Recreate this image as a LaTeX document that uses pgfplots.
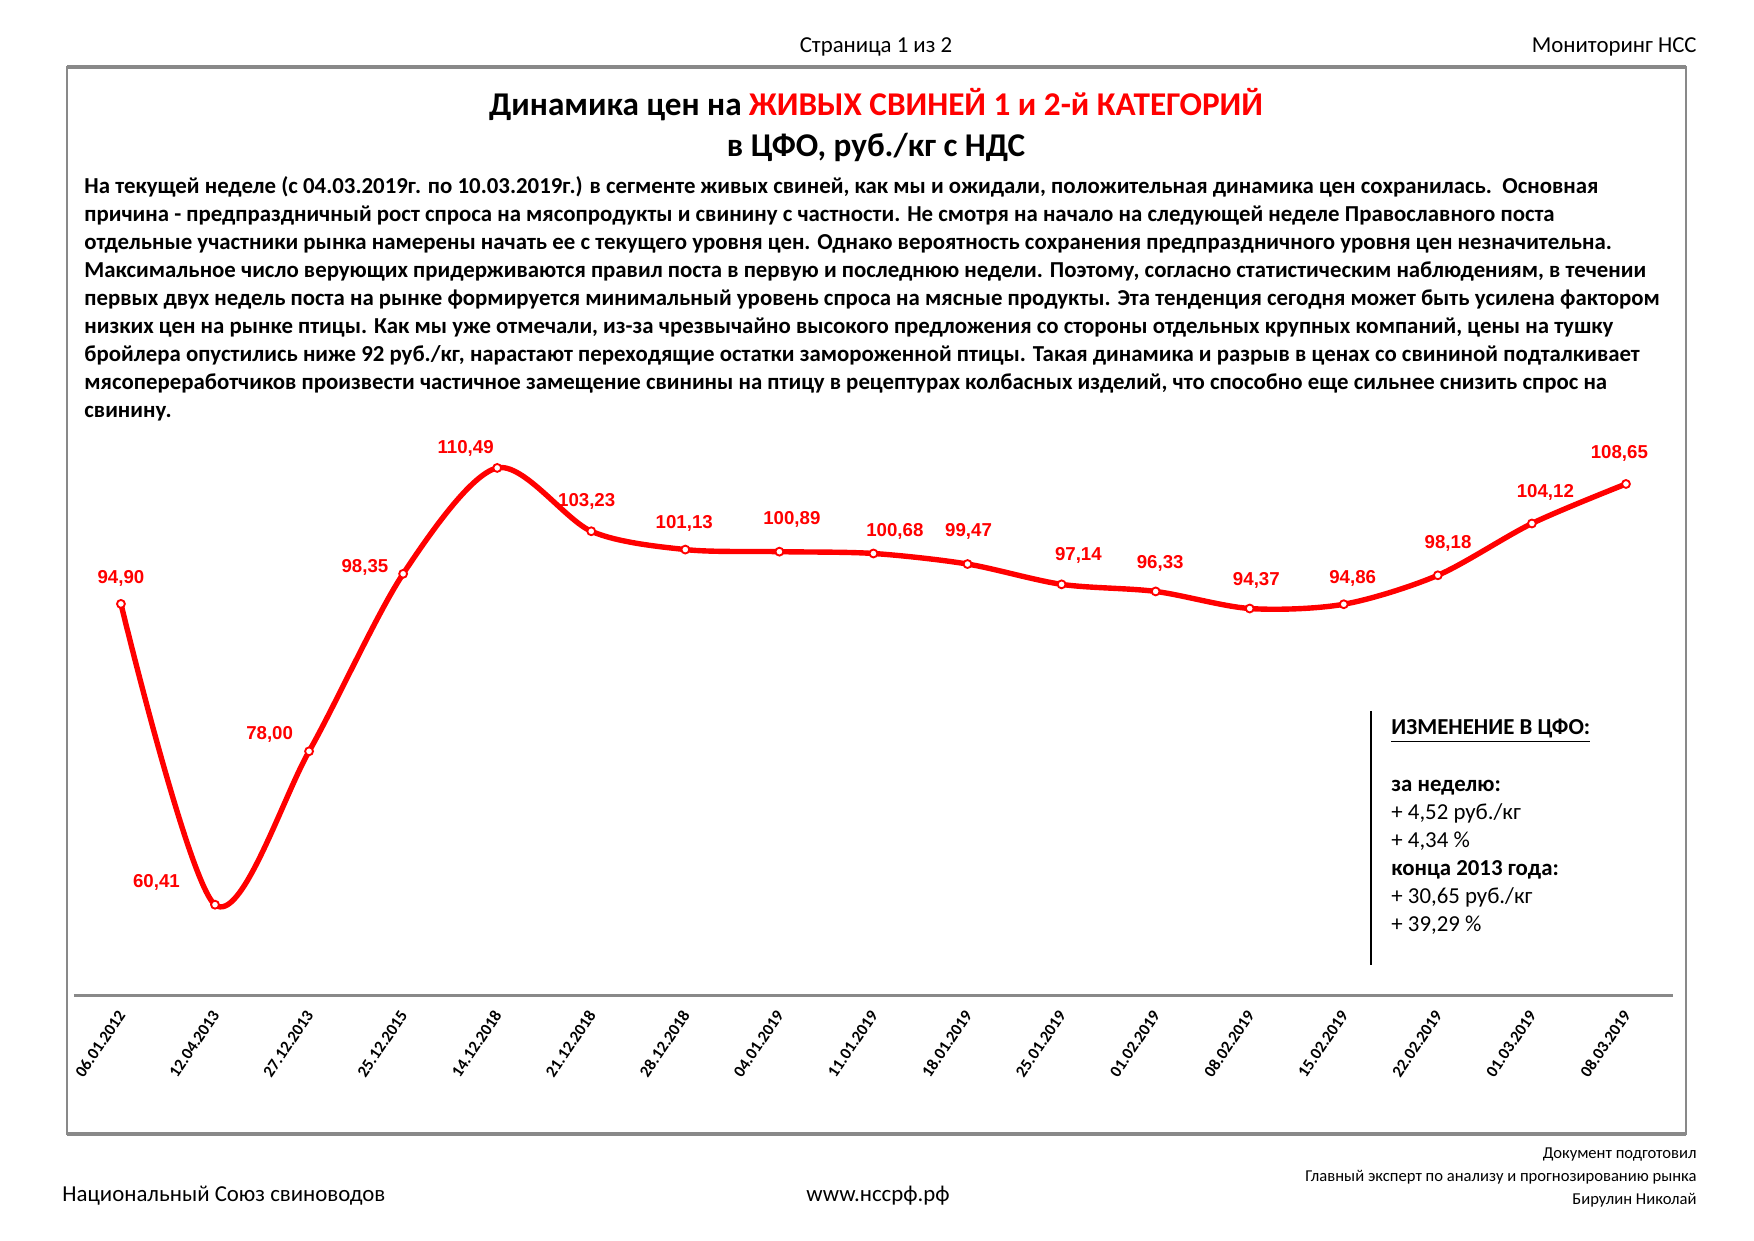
\documentclass[border=0pt]{standalone}
\usepackage{fontspec}
\setmainfont{Carlito}
\newfontfamily\labfont{Liberation Sans}
\usepackage{pgfplots}
\pgfplotsset{compat=1.18}
\usepackage{pgfplotstable}
\definecolor{xlred}{RGB}{255,0,0}
\definecolor{framegray}{RGB}{137,137,137}

% x = category index, y = price, dx/dy = label offset (pt)
\pgfplotstableread{
x  y      dx    dy
0  94.90  0     12.5
1  60.41  -28.2 10.5
2  78.00  -19   8.1
3  98.35  -18.4 3.2
4  110.49 -15.2 9.2
5  103.23 -2.2  14.6
6  101.13 -0.5  12.5
7  100.89 6     15.7
8  100.68 10.3  10.8
9  99.47  0.5   15.7
10 97.14  8.1   14.1
11 96.33  2.2   13.5
12 94.37  3.2   13.5
13 94.86  4.3   12.5
14 98.18  4.9   15.2
15 104.12 6.5   15.2
16 108.65 -3.2  14.6
}\prices

\begin{document}
\begin{tikzpicture}[x=0.16933mm, y=0.16933mm]
\path (0,0) rectangle (1754,1240);

% page frame
\draw[framegray, line width=1pt] (67,{1240-67}) rectangle (1686,{1240-1134});
\draw[framegray, line width=2pt] (67,{1240-67}) -- (1686,{1240-67});
\draw[framegray, line width=2pt] (67,{1240-1134}) -- (1686,{1240-1134});

% header / footer
\node[anchor=base, font=\fontsize{11}{13}\selectfont] at (876,{1240-53}) {Страница 1 из 2};
\node[anchor=base east, font=\fontsize{11}{13}\selectfont, inner sep=0pt] at (1697,{1240-53}) {Мониторинг НСС};
\node[anchor=base west, font=\fontsize{11}{13}\selectfont, inner sep=0pt] at (62,{1240-1201}) {Национальный Союз свиноводов};
\node[anchor=base, font=\fontsize{11}{13}\selectfont] at (878,{1240-1201}) {www.нссрф.рф};
\begin{scope}[every node/.style={anchor=base east, inner sep=0pt, font=\fontsize{8}{10}\selectfont}]
\node at (1697,{1240-1158}) {Документ подготовил};
\node at (1697,{1240-1181}) {Главный эксперт по анализу и прогнозированию рынка};
\node at (1697,{1240-1204}) {Бирулин Николай};
\end{scope}

% title
\node[anchor=base, font=\fontsize{16}{19}\selectfont\bfseries] at (876,{1240-116})
  {Динамика цен на \textcolor{xlred}{ЖИВЫХ СВИНЕЙ 1 и 2-й КАТЕГОРИЙ}};
\node[anchor=base, font=\fontsize{16}{19}\selectfont\bfseries] at (876,{1240-157})
  {в ЦФО, руб./кг с НДС};

% commentary
\begin{scope}[every node/.style={anchor=base west, inner sep=0pt, font=\fontsize{11}{13.5}\selectfont\bfseries}]
\node at (84,{1240-193.3}) {На текущей неделе (с 04.03.2019г. по 10.03.2019г.) в сегменте живых свиней, как мы и ожидали, положительная динамика цен сохранилась.\ \ Основная};
\node at (84,{1240-221.3}) {причина - предпраздничный рост спроса на мясопродукты и свинину с частности. Не смотря на начало на следующей неделе Православного поста};
\node at (84,{1240-249.3}) {отдельные участники рынка намерены начать ее с текущего уровня цен. Однако вероятность сохранения предпраздничного уровня цен незначительна.};
\node at (84,{1240-277.3}) {Максимальное число верующих придерживаются правил поста в первую и последнюю недели. Поэтому, согласно статистическим наблюдениям, в течении};
\node at (84,{1240-305.3}) {первых двух недель поста на рынке формируется минимальный уровень спроса на мясные продукты. Эта тенденция сегодня может быть усилена фактором};
\node at (84,{1240-333.3}) {низких цен на рынке птицы. Как мы уже отмечали, из-за чрезвычайно высокого предложения со стороны отдельных крупных компаний, цены на тушку};
\node at (84,{1240-361.3}) {бройлера опустились ниже 92 руб./кг, нарастают переходящие остатки замороженной птицы. Такая динамика и разрыв в ценах со свининой подталкивает};
\node at (84,{1240-389.3}) {мясопереработчиков произвести частичное замещение свинины на птицу в рецептурах колбасных изделий, что способно еще сильнее снизить спрос на};
\node at (84,{1240-417.3}) {свинину.};
\end{scope}

% change box
\draw[black, line width=1pt] (1370.6,{1240-711}) -- (1370.6,{1240-965});
\begin{scope}[every node/.style={anchor=base west, inner sep=0pt, font=\fontsize{11}{13.5}\selectfont}]
\node[font=\fontsize{11}{13.5}\selectfont\bfseries] at (1391,{1240-735}) {\underline{ИЗМЕНЕНИЕ В ЦФО:}};
\node[font=\fontsize{11}{13.5}\selectfont\bfseries] at (1391,{1240-792}) {за неделю:};
\node at (1391,{1240-820}) {+ 4,52 руб./кг};
\node at (1391,{1240-847.5}) {+ 4,34 \%};
\node[font=\fontsize{11}{13.5}\selectfont\bfseries] at (1391,{1240-875.4}) {конца 2013 года:};
\node at (1391,{1240-903.3}) {+ 30,65 руб./кг};
\node at (1391,{1240-931.2}) {+ 39,29 \%};
\end{scope}

\begin{axis}[
    at={(1.2514cm,4.1402cm)}, anchor=south west,
    scale only axis,
    width=27.077cm, height=9.599cm,
    xmin=-0.5, xmax=16.5,
    ymin=50, ymax=115,
    axis x line*=bottom,
    axis y line=none,
    x axis line style={framegray, line width=1.6pt},
    xtick={0,...,16},
    xticklabels={06.01.2012,12.04.2013,27.12.2013,25.12.2015,14.12.2018,21.12.2018,28.12.2018,04.01.2019,11.01.2019,18.01.2019,25.01.2019,01.02.2019,08.02.2019,15.02.2019,22.02.2019,01.03.2019,08.03.2019},
    major tick length=0pt,
    xticklabel style={font=\fontsize{8}{9}\selectfont\bfseries, rotate=56, anchor=east, inner sep=0pt, xshift=-6.3pt, yshift=-4.7pt},
    clip=false,
    /pgf/number format/assume math mode=true,
]
\addplot[xlred, line width=2.6pt, smooth,
    mark=*, mark size=1.9pt,
    mark options={fill=white, draw=xlred, line width=0.9pt},
    nodes near coords={\pgfmathprintnumber[fixed,fixed zerofill,precision=2,use comma]{\pgfplotspointmeta}},
    visualization depends on={\thisrow{dx} \as \dx},
    visualization depends on={\thisrow{dy} \as \dy},
    every node near coord/.append style={font=\labfont\fontsize{9}{10}\selectfont\bfseries, text=xlred, anchor=center, xshift=\dx pt, yshift=\dy pt},
] table[x=x, y=y] {\prices};
\end{axis}
\end{tikzpicture}
\end{document}
